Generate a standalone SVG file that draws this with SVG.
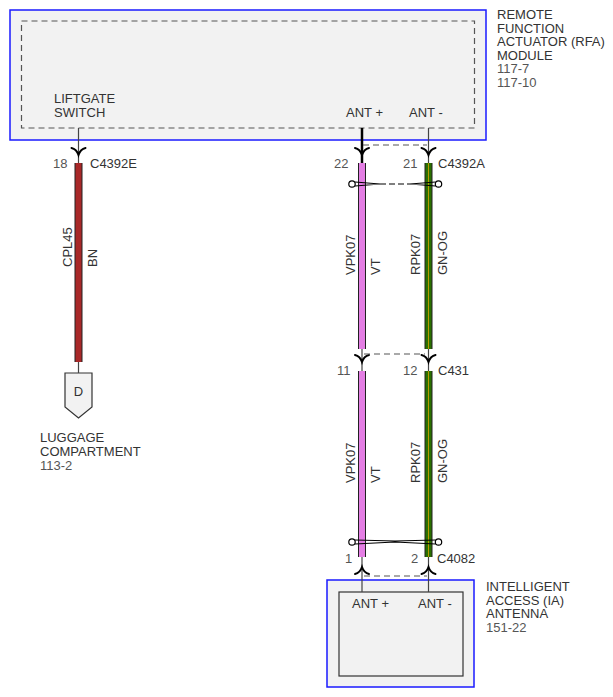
<svg xmlns="http://www.w3.org/2000/svg" width="613" height="697" viewBox="0 0 613 697">
<defs>
<style>
text{font-family:"Liberation Sans",Arial,sans-serif;font-size:13px;fill:#333}
.num{fill:#555}
.box{fill:#f2f2f2;stroke:#1a1aff;stroke-width:1.5}
.dash{fill:none;stroke:#555;stroke-width:1.2;stroke-dasharray:6,4}
.thin{stroke:#444;stroke-width:1.2;fill:none}
.thick{stroke:#000;stroke-width:2.5;fill:none}
.wb{stroke:#222;stroke-width:8;fill:none}
.sym{stroke:#000;stroke-width:2;fill:none;stroke-linecap:round}
.gn{stroke:#2a7000;stroke-width:6;fill:none}
.og{stroke:#b89a00;stroke-width:1;fill:none}
.vt{stroke:#e47ee4;stroke-width:6;fill:none}
</style>
<path id="cdown" d="M-7,-4 Q-2,-3 0,3 Q2,-3 7,-4" class="sym"/>
<path id="cup" d="M-7,4 Q-2,3 0,-3 Q2,3 7,4" class="sym"/>
</defs>

<g id="rfa-module">
<rect x="10" y="10" width="476" height="130" class="box"/>
<rect x="21.5" y="21" width="453" height="107" class="dash"/>
<text x="54" y="103">LIFTGATE</text>
<text x="54" y="117">SWITCH</text>
<text x="346" y="117">ANT +</text>
<text x="409" y="117">ANT -</text>
<text x="497" y="19">REMOTE</text>
<text x="497" y="32.5">FUNCTION</text>
<text x="497" y="46">ACTUATOR (RFA)</text>
<text x="497" y="59.5">MODULE</text>
<text x="497" y="73" class="num">117-7</text>
<text x="497" y="86.5" class="num">117-10</text>
</g>

<g id="ia-antenna">
<rect x="327" y="580" width="147" height="107" class="box"/>
<rect x="339" y="592" width="124" height="84" fill="#f2f2f2" stroke="#333" stroke-width="1.2"/>
<text x="352" y="608">ANT +</text>
<text x="418" y="608">ANT -</text>
<text x="486" y="591">INTELLIGENT</text>
<text x="486" y="604.5">ACCESS (IA)</text>
<text x="486" y="618">ANTENNA</text>
<text x="486" y="631.5" class="num">151-22</text>
</g>

<g id="luggage-compartment">
<path d="M65,373 H92 V407 L78.5,418 L65,407 Z" fill="#f2f2f2" stroke="#333" stroke-width="1.2"/>
<text x="78.5" y="396" text-anchor="middle">D</text>
<text x="40" y="442">LUGGAGE</text>
<text x="40" y="456">COMPARTMENT</text>
<text x="40" y="470" class="num">113-2</text>
</g>

<g id="connectors">
<line x1="78.5" y1="128" x2="78.5" y2="163" class="thin"/>
<line x1="362" y1="128" x2="362" y2="163" class="thick"/>
<line x1="428.5" y1="128" x2="428.5" y2="163" class="thin"/>
<use href="#cdown" x="78.5" y="152"/>
<use href="#cdown" x="362" y="152"/>
<use href="#cdown" x="428.5" y="152"/>
<line x1="363" y1="145" x2="427" y2="145" class="dash"/>

<line x1="78.5" y1="163" x2="78.5" y2="362" class="wb"/>
<line x1="78.5" y1="163" x2="78.5" y2="362" stroke="#a82828" stroke-width="6"/>
<line x1="78.5" y1="362" x2="78.5" y2="373" class="thin"/>

<line x1="362" y1="163" x2="362" y2="349" class="wb"/>
<line x1="362" y1="163" x2="362" y2="349" class="vt"/>
<line x1="428.5" y1="163" x2="428.5" y2="349" class="wb"/>
<line x1="428.5" y1="163" x2="428.5" y2="349" class="gn"/>
<line x1="428.5" y1="163" x2="428.5" y2="349" class="og"/>

<line x1="362" y1="349" x2="362" y2="371" class="thin"/>
<line x1="428.5" y1="349" x2="428.5" y2="371" class="thin"/>
<use href="#cdown" x="362" y="359"/>
<use href="#cdown" x="428.5" y="359"/>
<line x1="364" y1="354" x2="425" y2="354" class="dash"/>

<line x1="362" y1="371" x2="362" y2="557" class="wb"/>
<line x1="362" y1="371" x2="362" y2="557" class="vt"/>
<line x1="428.5" y1="371" x2="428.5" y2="557" class="wb"/>
<line x1="428.5" y1="371" x2="428.5" y2="557" class="gn"/>
<line x1="428.5" y1="371" x2="428.5" y2="557" class="og"/>

<line x1="362" y1="557" x2="362" y2="592" class="thin"/>
<line x1="428.5" y1="557" x2="428.5" y2="592" class="thin"/>
<use href="#cup" x="362" y="570"/>
<use href="#cup" x="428.5" y="570"/>
<line x1="364" y1="576" x2="427" y2="576" class="dash"/>

<g fill="none" stroke="#000" stroke-width="1.2">
<circle cx="352" cy="184" r="3.2" fill="#fff"/>
<circle cx="438.5" cy="184" r="3.2" fill="#fff"/>
<path d="M355,182 L380,184 M355,186 L380,184 M410,184 L435.5,182 M410,184 L435.5,186"/>
<line x1="380" y1="184" x2="410" y2="184" stroke-dasharray="6,3"/>
<circle cx="352" cy="542" r="3.2" fill="#fff"/>
<circle cx="438.5" cy="542" r="3.2" fill="#fff"/>
<path d="M355,540 L395,541 L435.5,540 M355,544 L395,542 L435.5,544"/>
</g>

<text x="53" y="168" class="num">18</text>
<text x="90" y="168">C4392E</text>
<text x="334" y="168" class="num">22</text>
<text x="403" y="168" class="num">21</text>
<text x="438" y="168">C4392A</text>
<text x="337" y="375" class="num">11</text>
<text x="403" y="375" class="num">12</text>
<text x="438" y="375">C431</text>
<text x="345" y="563" class="num">1</text>
<text x="411" y="563" class="num">2</text>
<text x="437" y="563">C4082</text>

<text transform="translate(72,267) rotate(-90)">CPL45</text>
<text transform="translate(97,267) rotate(-90)">BN</text>
<text transform="translate(355,275) rotate(-90)">VPK07</text>
<text transform="translate(380,275) rotate(-90)">VT</text>
<text transform="translate(420,275) rotate(-90)">RPK07</text>
<text transform="translate(447,275) rotate(-90)">GN-OG</text>
<text transform="translate(355,483) rotate(-90)">VPK07</text>
<text transform="translate(380,483) rotate(-90)">VT</text>
<text transform="translate(420,483) rotate(-90)">RPK07</text>
<text transform="translate(447,483) rotate(-90)">GN-OG</text>
</g>
</svg>
